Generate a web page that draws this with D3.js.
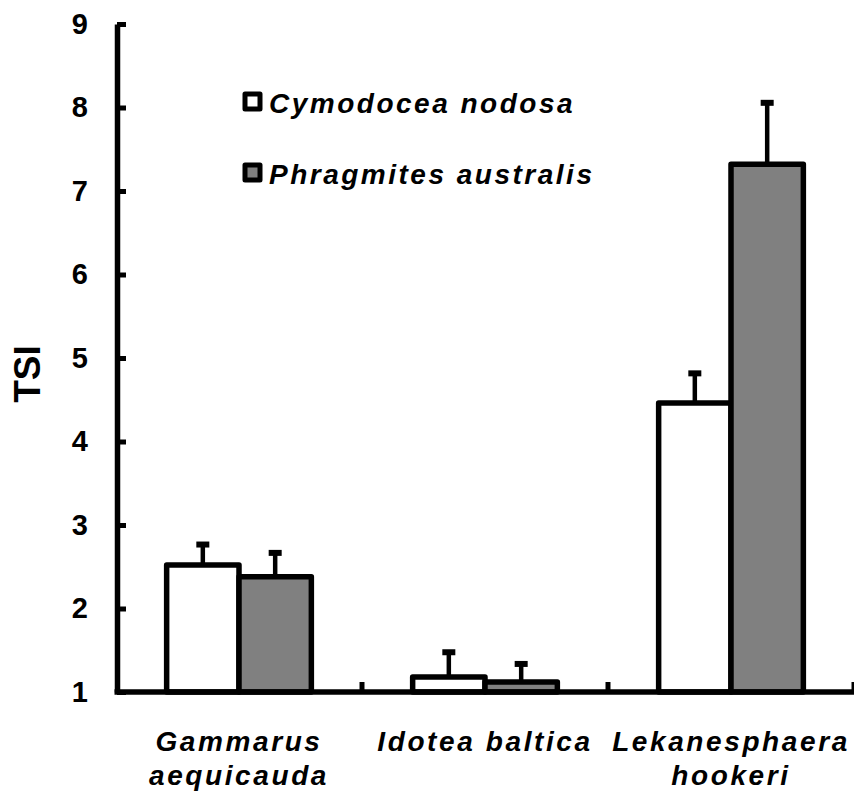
<!DOCTYPE html>
<html>
<head>
<meta charset="utf-8">
<script src="https://cdn.jsdelivr.net/npm/d3@7"></script>
<style>
  body { margin: 0; background: #fff; }
  svg { display: block; font-family: "Liberation Sans", Arial, sans-serif; }
</style>
</head>
<body>
<svg id="chart" width="854" height="792"></svg>
<script>
// Categories (two-line labels)
var categories = ['Gammarus aequicauda', 'Idotea baltica', 'Lekanesphaera hookeri'];
var categoryLines = [['Gammarus', 'aequicauda'], ['Idotea baltica'], ['Lekanesphaera', 'hookeri']];

// Series
var series = ['Cymodocea nodosa', 'Phragmites australis'];
var seriesColors = ['#ffffff', '#808080'];

// TSI means and error (top of the bar) per series
var cymodocea = [2.52, 1.18, 4.46];
var cymodoceaErr = [0.27, 0.32, 0.38];
var phragmites = [2.38, 1.12, 7.32];
var phragmitesErr = [0.31, 0.24, 0.76];

var yTicks = [1, 2, 3, 4, 5, 6, 7, 8, 9];

var svg = d3.select('#chart');

var x0 = d3.scaleBand().domain(categories).range([116, 854]).paddingInner(0).paddingOuter(0);
var x1 = d3.scaleBand().domain(series).range([0, x0.bandwidth()]).paddingInner(0).paddingOuter(0.7);
var y = d3.scaleLinear().domain([1, 9]).range([692, 24]);

// build rows
var rows = [];
categories.forEach(function(c, i) {
  rows.push({cat: c, s: series[0], v: cymodocea[i], e: cymodoceaErr[i], fill: seriesColors[0]});
  rows.push({cat: c, s: series[1], v: phragmites[i], e: phragmitesErr[i], fill: seriesColors[1]});
});

// error bars (behind bars)
var err = svg.append('g');
err.selectAll('line').data(rows).enter()
  .append('line')
  .attr('x1', function(d) { return x0(d.cat) + x1(d.s) + x1.bandwidth() / 2; })
  .attr('x2', function(d) { return x0(d.cat) + x1(d.s) + x1.bandwidth() / 2; })
  .attr('y1', function(d) { return y(d.v); })
  .attr('y2', function(d) { return y(d.v + d.e); })
  .attr('stroke', '#000').attr('stroke-width', 4.5);
err.selectAll('rect').data(rows).enter()
  .append('rect')
  .attr('x', function(d) { return x0(d.cat) + x1(d.s) + x1.bandwidth() / 2 - 6.5; })
  .attr('y', function(d) { return y(d.v + d.e) - 1; })
  .attr('width', 13).attr('height', 6)
  .attr('fill', '#000');

// bars
svg.append('g').selectAll('rect').data(rows).enter()
  .append('rect')
  .attr('x', function(d) { return x0(d.cat) + x1(d.s); })
  .attr('y', function(d) { return y(d.v); })
  .attr('width', x1.bandwidth())
  .attr('height', function(d) { return y(1) - y(d.v); })
  .attr('fill', function(d) { return d.fill; })
  .attr('stroke', '#000').attr('stroke-width', 5.5)
  .attr('stroke-linejoin', 'round');

// y axis
var yAxis = svg.append('g')
  .attr('transform', 'translate(117,0)')
  .call(d3.axisLeft(y).tickValues(yTicks).tickSizeInner(-9).tickSizeOuter(0).tickPadding(29).tickFormat(d3.format('d')));
yAxis.select('.domain').attr('stroke', '#000').attr('stroke-width', 5.5);
yAxis.selectAll('.tick line').attr('stroke', '#000').attr('stroke-width', 5);
yAxis.selectAll('.tick text')
  .attr('font-size', 29).attr('font-weight', 'bold').attr('fill', '#000')
  .attr('font-family', '"Liberation Sans", Arial, sans-serif');

// x axis line
var xAxis = svg.append('g')
  .attr('transform', 'translate(0,' + y(1) + ')')
  .call(d3.axisBottom(x0).tickSize(0).tickFormat(''));
xAxis.select('.domain').attr('stroke', '#000').attr('stroke-width', 5.5).attr('d', 'M114.5,0H854');

// category boundary ticks
svg.append('g').selectAll('line').data(categories).enter()
  .append('line')
  .attr('x1', function(d) { return x0(d) + x0.bandwidth(); })
  .attr('x2', function(d) { return x0(d) + x0.bandwidth(); })
  .attr('y1', y(1)).attr('y2', y(1) - 10)
  .attr('stroke', '#000').attr('stroke-width', 5);

// category labels
var cl = svg.append('g').selectAll('text').data(categories).enter()
  .append('text')
  .attr('x', function(d) { return x0(d) + x0.bandwidth() / 2; })
  .attr('y', 751)
  .attr('text-anchor', 'middle')
  .attr('font-size', 28).attr('font-weight', 'bold').attr('font-style', 'italic')
  .attr('letter-spacing', 2.6);
cl.each(function(d, i) {
  var t = d3.select(this);
  categoryLines[i].forEach(function(line, j) {
    t.append('tspan').attr('x', x0(d) + x0.bandwidth() / 2).attr('dy', j === 0 ? 0 : 34).text(line);
  });
});

// y label
svg.append('text')
  .attr('transform', 'translate(40,374) rotate(-90)')
  .attr('text-anchor', 'middle')
  .attr('font-size', 37).attr('font-weight', 'bold')
  .text('TSI');

// legend
var legend = svg.append('g').selectAll('g').data(series).enter()
  .append('g')
  .attr('transform', function(d, i) { return 'translate(243,' + (92 + i * 71) + ')'; });
legend.append('rect')
  .attr('x', 2).attr('y', 2).attr('width', 15).attr('height', 15)
  .attr('fill', function(d, i) { return seriesColors[i]; })
  .attr('stroke', '#000').attr('stroke-width', 5).attr('stroke-linejoin', 'round');
legend.append('text')
  .attr('x', 26).attr('y', 21)
  .attr('font-size', 28).attr('font-weight', 'bold').attr('font-style', 'italic')
  .attr('letter-spacing', 2.5)
  .text(function(d) { return d; });
</script>
</body>
</html>
